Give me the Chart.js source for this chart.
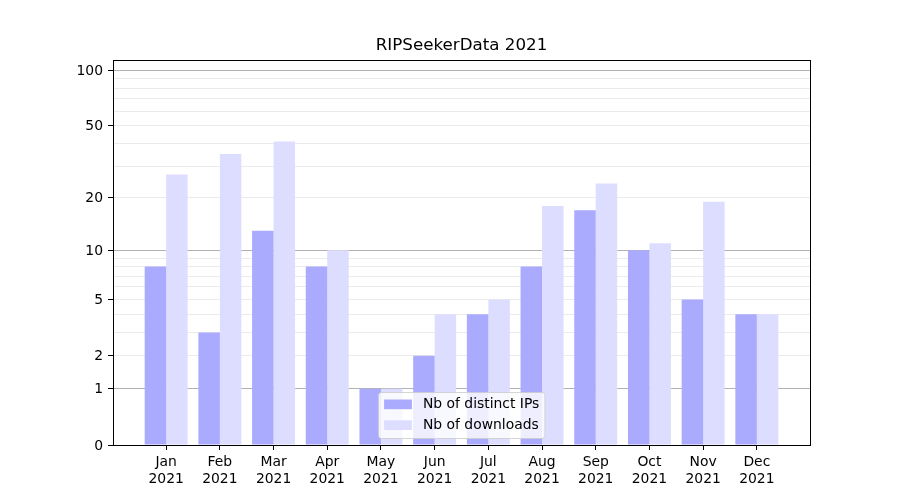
<!DOCTYPE html>
<html>
<head>
<meta charset="utf-8">
<script src="https://cdn.jsdelivr.net/npm/chart.js@4.4.0/dist/chart.umd.min.js"></script>
<style>
html, body { margin: 0; padding: 0; background: #fff; }
#wrap { width: 900px; height: 500px; }
</style>
</head>
<body>
<div id="wrap"><canvas id="chart"></canvas></div>
<script>
var months = ["Jan", "Feb", "Mar", "Apr", "May", "Jun", "Jul", "Aug", "Sep", "Oct", "Nov", "Dec"];
var year = "2021";
var distinctIPs = [8, 3, 13, 8, 1, 2, 4, 8, 17, 10, 5, 4];
var downloads = [27, 35, 41, 10, 1, 4, 5, 18, 24, 11, 19, 4];
var yMajorTicks = [0, 1, 2, 5, 10, 20, 50, 100];
var yMinorTicks = [3, 4, 6, 7, 8, 9, 30, 40, 60, 70, 80, 90];
var yDarkGrid = [1, 10, 100];

// y axis is log10(1 + v), like the matplotlib function scale
class Log1pScale extends Chart.LinearScale {
  getPixelForValue(value) {
    if (value === null) return NaN;
    var t0 = Math.log10(1 + this.min), t1 = Math.log10(1 + this.max);
    return this.getPixelForDecimal((Math.log10(1 + value) - t0) / (t1 - t0));
  }
  getValueForPixel(pixel) {
    var t0 = Math.log10(1 + this.min), t1 = Math.log10(1 + this.max);
    return Math.pow(10, t0 + this.getDecimalForPixel(pixel) * (t1 - t0)) - 1;
  }
}
Log1pScale.id = 'log1p';
Chart.register(Log1pScale);

Chart.defaults.font.family = "'DejaVu Sans', sans-serif";
Chart.defaults.font.size = 13.9;
Chart.defaults.color = '#000';

var frame = {
  id: 'frame',
  afterDraw: function (chart) {
    var a = chart.chartArea, ctx = chart.ctx;
    ctx.save();
    ctx.strokeStyle = '#000';
    ctx.lineWidth = 1;
    ctx.strokeRect(Math.round(a.left) + 0.5, Math.round(a.top) + 0.5,
      Math.round(a.right - a.left), Math.round(a.bottom - a.top));

    // legend box, lower center inside the axes
    var sets = chart.data.datasets;
    ctx.font = "13.9px 'DejaVu Sans', sans-serif";
    var tw = 0;
    sets.forEach(function (d) { tw = Math.max(tw, ctx.measureText(d.label).width); });
    var w = 5.6 + 27.8 + 11 + tw + 5.6, h = 46;
    var x = Math.round((a.left + a.right) / 2 - w / 2) + 0.5;
    var y = Math.round(a.bottom - 7.5 - h) + 0.5;
    ctx.beginPath();
    ctx.roundRect(x, y, w, h, 3);
    ctx.fillStyle = 'rgba(255,255,255,0.8)';
    ctx.fill();
    ctx.strokeStyle = 'rgba(204,204,204,0.8)';
    ctx.stroke();
    sets.forEach(function (d, i) {
      var cy = y + 12 + i * 20.8;
      ctx.fillStyle = d.backgroundColor;
      ctx.fillRect(x + 5.6, cy - 5, 27.8, 9.7);
      ctx.fillStyle = '#000';
      ctx.textBaseline = 'middle';
      ctx.fillText(d.label, x + 5.6 + 27.8 + 11, cy);
    });
    ctx.restore();
  }
};

var chart = new Chart(document.getElementById('chart'), {
  type: 'bar',
  data: {
    datasets: [
      {
        label: "Nb of distinct IPs",
        backgroundColor: "#aaaaff",
        data: distinctIPs.map(function (v, i) { return { x: i, y: v }; })
      }, {
        label: "Nb of downloads",
        backgroundColor: "#ddddff",
        data: downloads.map(function (v, i) { return { x: i, y: v }; })
      }
    ]
  },
  options: {
    responsive: true, maintainAspectRatio: false, animation: false,
    categoryPercentage: 0.8, barPercentage: 1.0,
    layout: { padding: { left: 0, right: 90, top: 0, bottom: 0 } },
    plugins: {
      legend: { display: false },
      tooltip: { enabled: false },
      title: {
        display: true, text: 'RIPSeekerData 2021', fullSize: false,
        font: { size: 16.7, weight: 'normal' }, color: '#000',
        padding: { top: 36, bottom: 4 }
      }
    },
    scales: {
      x: {
        type: 'linear', min: -0.99, max: 11.99, offset: false,
        afterBuildTicks: function (s) { s.ticks = months.map(function (m, i) { return { value: i }; }); },
        afterFit: function (s) { s.height = 55; },
        ticks: {
          autoSkip: false, maxRotation: 0, padding: 4,
          callback: function (v, i) { return [months[i], year]; }
        },
        grid: { offset: false, drawOnChartArea: false, drawTicks: true, tickLength: 5, tickColor: '#000' },
        border: { display: true, color: '#000' }
      },
      y: {
        type: 'log1p', min: 0, max: 113.5, z: 1, bounds: 'data',
        afterBuildTicks: function (s) {
          s.ticks = yMajorTicks.concat(yMinorTicks).sort(function (a, b) { return a - b; })
            .map(function (v) { return { value: v }; });
        },
        afterFit: function (s) { s.width = 113; },
        ticks: {
          autoSkip: false, padding: 5, labelOffset: 1,
          callback: function (v) { return yMajorTicks.indexOf(v) >= 0 ? String(v) : ''; }
        },
        grid: {
          tickLength: 5,
          color: function (c) {
            var v = c.tick ? c.tick.value : 0;
            if (v === 0) return 'rgba(0,0,0,0)';
            return yDarkGrid.indexOf(v) >= 0 ? 'rgba(0,0,0,0.3)' : 'rgba(0,0,0,0.08)';
          },
          tickColor: function (c) {
            var v = c.tick ? c.tick.value : 0;
            return yMajorTicks.indexOf(v) >= 0 ? '#000' : 'rgba(0,0,0,0)';
          }
        },
        border: { display: true, color: '#000' }
      }
    }
  },
  plugins: [frame]
});
</script>
</body>
</html>
